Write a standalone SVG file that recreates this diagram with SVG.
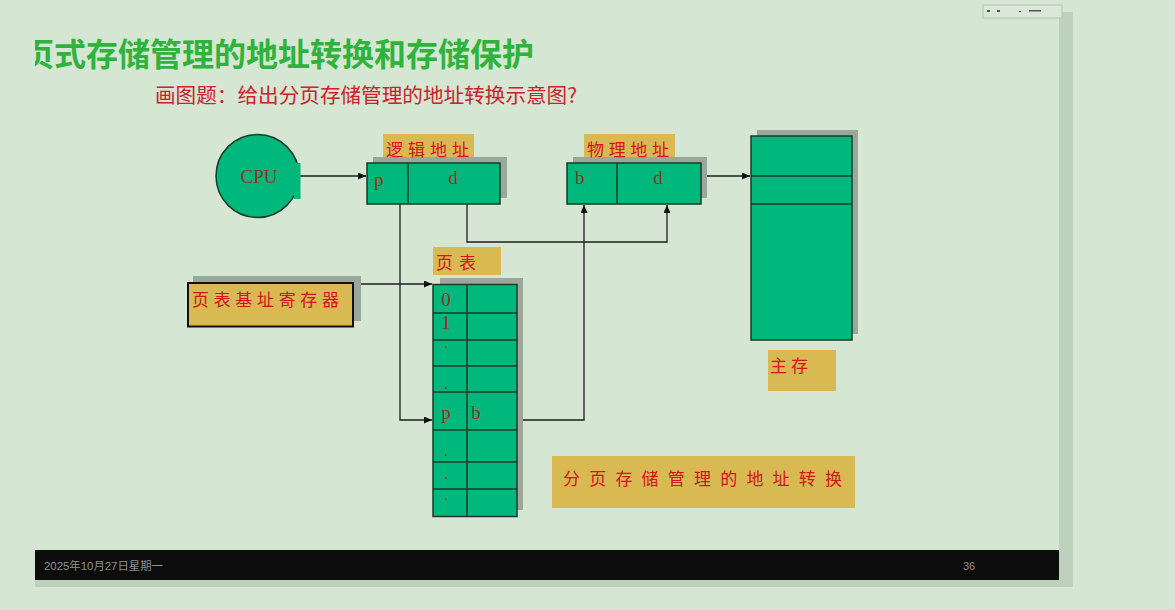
<svg xmlns="http://www.w3.org/2000/svg" width="1175" height="610" viewBox="0 0 1175 610">
<style>
.bg{fill:#d5e6d3}
.teal{fill:#00b87c;stroke:#1b3a2a;stroke-width:1.5}
.shadow{fill:#9aa89b}
.gold{fill:#d8b952}
.lbl{font-family:"Noto Sans CJK SC","Noto Sans",sans-serif;fill:#d4141c;font-size:17px}
.ser{font-family:"Liberation Serif",serif;fill:#9a2e22;font-size:19px}
.dot{font-family:"Liberation Serif",serif;fill:#9a2e22;font-size:14px}
.conn{fill:none;stroke:#1e1e1e;stroke-width:1.3}
.div{stroke:#1b3a2a;stroke-width:1.5}
</style>
<defs>
<marker id="arr" markerWidth="8" markerHeight="7" refX="8" refY="3.5" orient="auto" markerUnits="userSpaceOnUse">
<path d="M0,0 L8,3.5 L0,7 z" fill="#111"/>
</marker>
<clipPath id="slide"><rect x="35" y="0" width="1024" height="580"/></clipPath>
</defs>
<rect class="bg" x="0" y="0" width="1175" height="610"/>
<rect x="1059" y="12" width="14" height="575" fill="#bdd1bd"/>
<rect x="35" y="580" width="1038" height="7" fill="#bdd1bd"/>
<g id="topbox">
<rect x="983" y="5" width="79" height="13" fill="#dbe7d8" stroke="#b5c3b3" stroke-width="1"/>
<rect x="987" y="10" width="3" height="2" fill="#555"/>
<rect x="997" y="10" width="3" height="2" fill="#555"/>
<rect x="1019" y="11" width="2" height="1" fill="#555"/>
<rect x="1029" y="10" width="12" height="1.5" fill="#555"/>
</g>
<g clip-path="url(#slide)">
<text x="22" y="66" font-family="'Noto Sans CJK SC','Noto Sans',sans-serif" font-weight="bold" font-size="32" fill="#2fb33c" textLength="512" lengthAdjust="spacingAndGlyphs">页式存储管理的地址转换和存储保护</text>
</g>
<text x="155" y="103" font-family="'Noto Sans CJK SC','Noto Sans',sans-serif" font-size="20.5" fill="#cc2229" textLength="422" lengthAdjust="spacingAndGlyphs">画图题：给出分页存储管理的地址转换示意图?</text>

<g id="connectors">
<path class="conn" d="M300,176 H366" marker-end="url(#arr)"/>
<path class="conn" d="M400,204 V420 H432" marker-end="url(#arr)"/>
<path class="conn" d="M353,284 H432" marker-end="url(#arr)"/>
<path class="conn" d="M467,204 V242 H667 V205" marker-end="url(#arr)"/>
<path class="conn" d="M517,420 H584 V205" marker-end="url(#arr)"/>
<path class="conn" d="M701,176 H750" marker-end="url(#arr)"/>
</g>

<g id="cpu">
<circle class="teal" cx="257.5" cy="176" r="41.5"/>
<rect x="294" y="163" width="6.5" height="36" fill="#00b87c"/>
<text class="ser" x="259" y="183" text-anchor="middle">CPU</text>
</g>

<g id="logical">
<rect class="gold" x="383" y="134" width="91" height="26"/>
<rect class="shadow" x="373" y="157" width="134" height="41"/>
<rect class="teal" x="367" y="163" width="133" height="41"/>
<line class="div" x1="408" y1="163" x2="408" y2="204"/>
<text class="lbl" x="386" y="156" textLength="83" lengthAdjust="spacing">逻辑地址</text>
<text class="ser" x="374" y="186">p</text>
<text class="ser" x="453" y="184" text-anchor="middle">d</text>
</g>

<g id="physical">
<rect class="gold" x="584" y="134" width="91" height="26"/>
<rect class="shadow" x="573" y="157" width="134" height="41"/>
<rect class="teal" x="567" y="163" width="134" height="41"/>
<line class="div" x1="617" y1="163" x2="617" y2="204"/>
<text class="lbl" x="587" y="156" textLength="82" lengthAdjust="spacing">物理地址</text>
<text class="ser" x="575" y="184">b</text>
<text class="ser" x="658" y="184" text-anchor="middle">d</text>
</g>

<g id="memory">
<rect class="shadow" x="757" y="130" width="101" height="204"/>
<rect class="teal" x="751" y="136" width="101" height="204"/>
<line class="div" x1="751" y1="176" x2="852" y2="176"/>
<line class="div" x1="751" y1="204" x2="852" y2="204"/>
</g>

<g id="memlabel">
<rect class="gold" x="768" y="350" width="68" height="41"/>
<text class="lbl" x="770" y="372" textLength="38" lengthAdjust="spacing">主存</text>
</g>

<g id="baseReg">
<rect class="shadow" x="193" y="276" width="168" height="45"/>
<rect x="188" y="283" width="165" height="43.5" fill="#d8b952" stroke="#111" stroke-width="2"/>
<text class="lbl" x="192" y="306" textLength="147" lengthAdjust="spacing">页表基址寄存器</text>
</g>

<g id="pagetable">
<rect class="gold" x="433" y="247" width="68" height="28"/>
<text class="lbl" x="436" y="269" textLength="40" lengthAdjust="spacing">页表</text>
<rect class="shadow" x="440" y="278" width="83" height="232"/>
<rect class="teal" x="433" y="284.5" width="84" height="232"/>
<line class="div" x1="467" y1="284.5" x2="467" y2="516.5"/>
<line class="div" x1="433" y1="313" x2="517" y2="313"/>
<line class="div" x1="433" y1="340" x2="517" y2="340"/>
<line class="div" x1="433" y1="366" x2="517" y2="366"/>
<line class="div" x1="433" y1="392" x2="517" y2="392"/>
<line class="div" x1="433" y1="430" x2="517" y2="430"/>
<line class="div" x1="433" y1="462" x2="517" y2="462"/>
<line class="div" x1="433" y1="489" x2="517" y2="489"/>
<text class="ser" x="446" y="306" font-size="17" text-anchor="middle">0</text>
<text class="ser" x="446" y="329" font-size="17" text-anchor="middle">1</text>
<text class="dot" x="446" y="348" text-anchor="middle">.</text>
<text class="dot" x="446" y="389" text-anchor="middle">.</text>
<text class="ser" x="446" y="419" text-anchor="middle">p</text>
<text class="ser" x="476" y="419" text-anchor="middle">b</text>
<text class="dot" x="446" y="456" text-anchor="middle">.</text>
<text class="dot" x="446" y="479" text-anchor="middle">.</text>
<text class="dot" x="446" y="500" text-anchor="middle">.</text>
</g>

<g id="caption">
<rect class="gold" x="552" y="456" width="303" height="52"/>
<text class="lbl" x="563" y="485" font-size="22" textLength="279" lengthAdjust="spacing">分页存储管理的地址转换</text>
</g>

<g id="footer">
<rect x="35" y="550" width="1024" height="30" fill="#0c0c0c"/>
<text x="44" y="570" font-family="'Liberation Sans','Noto Sans CJK SC',sans-serif" font-size="11" fill="#8e8e8e" textLength="119" lengthAdjust="spacingAndGlyphs">2025年10月27日星期一</text>
<text x="963" y="570" font-family="'Liberation Sans',sans-serif" font-size="11" fill="#8e8e8e">36</text>
</g>
</svg>
